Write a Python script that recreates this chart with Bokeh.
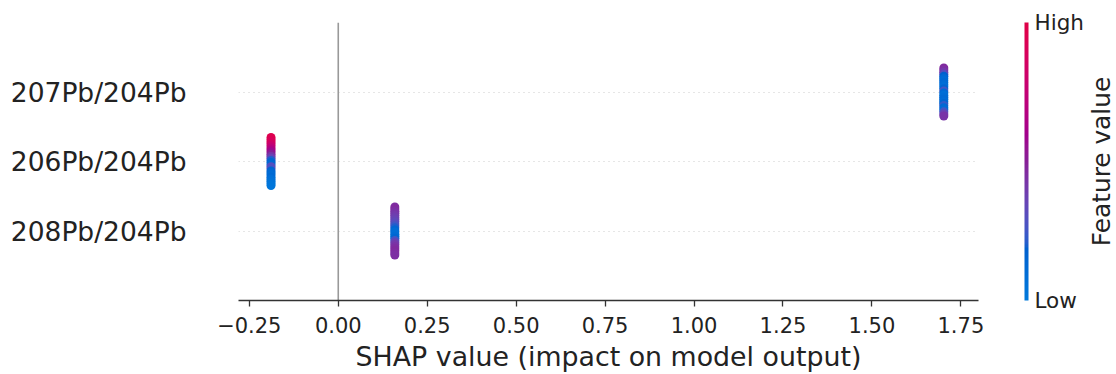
import numpy as np
from bokeh.plotting import figure
from bokeh.layouts import row
from bokeh.models import (ColumnDataSource, LinearColorMapper, ColorBar, FixedTicker,
                          Span, CustomJSTickFormatter)
from bokeh.core.properties import value
from bokeh.embed import file_html
from bokeh.resources import INLINE

# ---- data ----
features = ["208Pb/204Pb", "206Pb/204Pb", "207Pb/204Pb"]   # bottom -> top
shap_values = [0.159, -0.189, 1.702]
# normalised feature values of the samples, listed top -> bottom in each strip
fv_208 = [0.45, 0.46, 0.44, 0.42, 0.40, 0.38, 0.36, 0.33, 0.30, 0.25, 0.20, 0.14,
          0.10, 0.08, 0.10, 0.14, 0.25, 0.35, 0.40, 0.43, 0.45, 0.46, 0.45, 0.44]
fv_206 = [0.95, 0.93, 0.90, 0.85, 0.78, 0.72, 0.65, 0.58, 0.50, 0.42, 0.35, 0.20,
          0.15, 0.12, 0.30, 0.28, 0.15, 0.12, 0.10, 0.12, 0.08, 0.06, 0.04, 0.02]
fv_207 = [0.46, 0.44, 0.40, 0.30, 0.18, 0.12, 0.10, 0.12, 0.10, 0.08, 0.15, 0.25,
          0.12, 0.08, 0.10, 0.12, 0.10, 0.15, 0.22, 0.12, 0.10, 0.25, 0.35, 0.42]
x_ticks = [-0.25, 0.0, 0.25, 0.5, 0.75, 1.0, 1.25, 1.5, 1.75]
colorbar_labels = ["Low", "High"]
colorbar_title = ["Feature value"]

FONT = "DejaVu Sans"
TXT = "#222222"
X_START, X_END = -0.2804, 1.7995


def lab_to_rgb(L, a, b, shade=0.87):
    y = (L + 16.0) / 116.0
    x = a / 500.0 + y
    z = max(y - b / 200.0, 0.0)
    out = []
    for t in (x, y, z):
        out.append(t ** 3 if t > 0.2068966 else (t - 16.0 / 116.0) / 7.787)
    X, Y, Z = out[0] * 0.95047, out[1] * 1.0, out[2] * 1.08883
    m = [[3.24048134, -1.53715152, -0.49853633],
         [-0.96925495, 1.87599, 0.04155593],
         [0.05564664, -0.20404134, 1.05731107]]
    rgb = []
    for r in m:
        c = r[0] * X + r[1] * Y + r[2] * Z
        c = 1.055 * c ** (1 / 2.4) - 0.055 if c > 0.0031308 else 12.92 * c
        rgb.append(min(max(c, 0.0), 1.0) * shade)
    return "#%02x%02x%02x" % tuple(int(round(v * 255)) for v in rgb)


def red_blue(nsteps=100):
    blue_lch = [54.0, 70.0, 4.6588]
    red_lch = [54.0, 90.0, 0.35470565 + 2 * np.pi]
    l_mid = 40.0
    l_vals = list(np.linspace(blue_lch[0], l_mid, nsteps // 2)) + \
        list(np.linspace(l_mid, red_lch[0], nsteps // 2))
    c_vals = np.linspace(blue_lch[1], red_lch[1], nsteps)
    h_vals = np.linspace(blue_lch[2], red_lch[2], nsteps)
    return [lab_to_rgb(l, c * np.cos(h), c * np.sin(h))
            for l, c, h in zip(l_vals, c_vals, h_vals)]


palette = red_blue()
mapper = LinearColorMapper(palette=palette, low=0, high=1)

xs, ys, fvs = [], [], []
for r, (sv, fv) in enumerate(zip(shap_values, [fv_208, fv_206, fv_207])):
    n = len(fv)
    offs = np.linspace(0.345, -0.345, n)
    xs += [sv] * n
    ys += list(r + offs)
    fvs += fv
src = ColumnDataSource(dict(x=xs, y=ys, fv=fvs))

p = figure(width=1086, height=374, x_range=(X_START, X_END), y_range=(-1, 3),
           output_backend="svg", toolbar_location=None,
           min_border_left=238, min_border_right=106,
           min_border_top=22, min_border_bottom=73)
p.outline_line_color = None
p.background_fill_color = "white"

p.xgrid.visible = False
p.yaxis.ticker = FixedTicker(ticks=[0, 1, 2])
p.ygrid.grid_line_color = "#cccccc"
p.ygrid.grid_line_dash = "1 4"
p.ygrid.grid_line_width = 1

p.add_layout(Span(location=0, dimension="height", line_color="#999999",
                  line_width=1.6, level="underlay"))

p.scatter("x", "y", source=src, size=9, line_color=None,
          fill_color={"field": "fv", "transform": mapper})

# y axis: feature names only
yax = p.yaxis[0]
yax.formatter = CustomJSTickFormatter(args=dict(labels=features),
                                      code="return labels[Math.round(tick)] || '';")
yax.axis_line_color = None
yax.major_tick_line_color = None
yax.minor_tick_line_color = None
yax.major_tick_out = 0
yax.major_label_standoff = 52
yax.major_label_text_font = FONT
yax.major_label_text_font_size = "26.5px"
yax.major_label_text_color = TXT

# x axis
xax = p.xaxis[0]
xax.ticker = FixedTicker(ticks=x_ticks)
xax.formatter = CustomJSTickFormatter(code="return tick.toFixed(2).replace('-', '\u2212');")
xax.axis_line_color = "#333333"
xax.axis_line_width = 1.3
xax.major_tick_line_color = "#333333"
xax.major_tick_line_width = 1.3
xax.major_tick_in = 0
xax.major_tick_out = 6
xax.minor_tick_line_color = None
xax.major_label_standoff = 10
xax.major_label_text_font = FONT
xax.major_label_text_font_size = "21px"
xax.major_label_text_color = TXT
xax.axis_label = "SHAP value (impact on model output)"
xax.axis_label_text_font = FONT
xax.axis_label_text_font_size = "26.8px"
xax.axis_label_text_font_style = "normal"
xax.axis_label_text_color = TXT
xax.axis_label_standoff = 5

cb = ColorBar(color_mapper=mapper, ticker=FixedTicker(ticks=[0, 1]),
              formatter=CustomJSTickFormatter(args=dict(labels=colorbar_labels),
                                              code="return labels[Math.round(tick)];"),
              width=4, height=278, margin=0, padding=0, location=(46, 0),
              major_tick_line_color=None, minor_tick_line_color=None,
              bar_line_color=None, border_line_color=None,
              background_fill_color=None,
              label_standoff=6,
              major_label_text_font=FONT, major_label_text_font_size="21.5px",
              major_label_text_color=TXT)
p.add_layout(cb, "right")

# narrow strip holding the colour-bar title, read bottom to top
p2 = figure(width=30, height=374, x_range=(0, 1), y_range=p.y_range,
            output_backend="svg", toolbar_location=None,
            x_axis_location=None, y_axis_location=None,
            min_border_left=0, min_border_right=0,
            min_border_top=22, min_border_bottom=73)
p2.outline_line_color = None
p2.grid.visible = False
p2.text(x=[0.5], y=[1], text=colorbar_title, angle=np.pi / 2,
        text_align="center", text_baseline="middle",
        text_font=value(FONT), text_font_size="24.8px", text_color=TXT)

open("out.html", "w").write(file_html(row(p, p2), INLINE))
